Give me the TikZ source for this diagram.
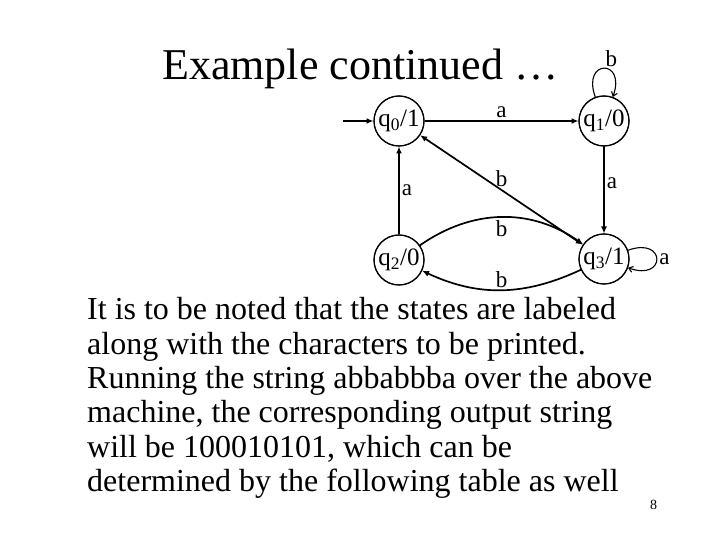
\documentclass[tikz,border=0pt]{standalone}
\usepackage{fontspec}
\setmainfont{Liberation Serif}
\usetikzlibrary{arrows.meta}

\tikzset{
  stnode/.style={shape=circle,draw,line width=1pt,minimum size=50pt,inner sep=0pt,font=\fontsize{25}{27}\selectfont},
  ring/.style={fill=black,even odd rule},
  tr/.style={line width=1.7pt,-{Latex[length=7pt,width=6pt]}},
  lp/.style={line width=1.1pt,-{Straight Barb[length=4pt,width=6pt]}},
  lbl/.style={font=\fontsize{23}{25}\selectfont,inner sep=2pt},
  body/.style={anchor=base west,inner sep=0pt,font=\fontsize{32}{34}\selectfont}
}

\begin{document}
\begin{tikzpicture}[x=1pt,y=1pt]
  \useasboundingbox (0,0) rectangle (720,540);
  \node[anchor=base west,inner sep=0pt,font=\fontsize{44}{48}\selectfont] (title) at (162,460) {Example continued …};
  % states
  \node[stnode] (q0) at (399,419) {q\textsubscript{0}/1};
  \node[stnode] (q1) at (604,419) {q\textsubscript{1}/0};
  \node[stnode] (q2) at (399,280) {q\textsubscript{2}/0};
  \node[stnode] (q3) at (604,281) {q\textsubscript{3}/1};
  \foreach \s in {q0,q1,q2,q3}
    \fill[ring] (\s.center) circle (25.6) circle (24.4);
  \coordinate (in) at (343,419);
  % transitions
  \draw[tr] (in) -- (q0);
  \draw[tr] (q0) -- node[lbl,above] {a} (q1);
  \draw[tr] (q1) -- node[lbl,right,pos=0.42] {a} (q3);
  \draw[tr] (q2) -- node[lbl,right] {a} (q0);
  \draw[tr,{Latex[length=7pt,width=6pt]}-{Latex[length=7pt,width=6pt]}] (q0) -- node[lbl,above] {b} (q3);
  \draw[tr] (q2) to[out=35,in=145] node[lbl,below] {b} (q3);
  \draw[tr] (q3) to[out=-155,in=-25] node[lbl,above,inner sep=1pt] {b} (q2);
  \draw[lp] (q1) to[out=110,in=70,looseness=6] node[lbl,above right,inner sep=1pt] {b} (q1);
  \draw[lp] (q3) to[out=20,in=-20,looseness=6] node[lbl,right] {a} (q3);
  % text
  \node[body] (l1) at (87,220) {It is to be noted that the states are labeled};
  \node[body] (l2) at (87,185.5) {along with the characters to be printed.};
  \node[body] (l3) at (87,151) {Running the string abbabbba over the above};
  \node[body] (l4) at (87,117) {machine, the corresponding output string};
  \node[body] (l5) at (87,82) {will be 100010101, which can be};
  \node[body] (l6) at (87,48) {determined by the following table as well};
  \node[anchor=base west,inner sep=0pt,font=\fontsize{14}{16}\selectfont] (pg) at (650,30) {8};
\end{tikzpicture}
\end{document}
